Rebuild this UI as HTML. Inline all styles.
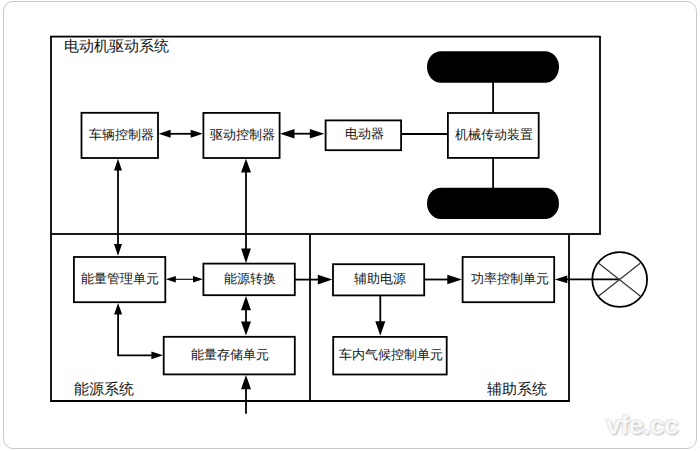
<!DOCTYPE html>
<html><head><meta charset="utf-8"><style>
html,body{margin:0;padding:0;background:#fff;width:700px;height:451px;overflow:hidden}
body{position:relative;font-family:"Liberation Sans",sans-serif}
svg{position:absolute;left:0;top:0}
.t13,.t15{position:absolute;white-space:nowrap;color:#151515;line-height:20px}
.t13{font-size:13px}
.t15{font-size:15px}
.wm{position:absolute;left:606px;top:409.5px;font-size:25px;font-weight:bold;color:#f8f8f8;letter-spacing:-0.5px;transform:scaleX(1.065);transform-origin:0 0;text-shadow:1px 1px 2px #bcbcbc,-1px -1px 1px #e6e6e6;line-height:30px}
</style></head><body>
<svg width="700" height="451" viewBox="0 0 700 451">
<rect x="3.5" y="1.5" width="693" height="447" rx="9.5" ry="9.5" fill="none" stroke="#c9c9c9" stroke-width="1"/>
<g fill="none" stroke="#000" stroke-width="1.8" stroke-linejoin="miter">
<rect x="51" y="36.6" width="549" height="197.4"/>
<polyline points="51,234 51,401 569,401 569,234"/>
<line x1="310" y1="234" x2="310" y2="401"/>
<rect x="81.50" y="112.80" width="76.50" height="45.20"/>
<rect x="203.40" y="112.90" width="76.20" height="45.10"/>
<rect x="325.60" y="120.40" width="75.50" height="29.80"/>
<rect x="447.90" y="113.00" width="90.80" height="44.90"/>
<rect x="73.90" y="257.00" width="91.40" height="45.20"/>
<rect x="203.40" y="263.60" width="91.40" height="31.60"/>
<rect x="163.70" y="336.80" width="131.10" height="37.60"/>
<rect x="333.00" y="264.20" width="91.20" height="31.20"/>
<rect x="333.20" y="336.90" width="113.50" height="37.60"/>
<rect x="462.60" y="257.00" width="91.60" height="45.20"/>
<line x1="401.1" y1="134" x2="447.9" y2="134"/>
<line x1="493.1" y1="82" x2="493.1" y2="113"/>
<line x1="493.1" y1="157.9" x2="493.1" y2="188"/>
<line x1="166" y1="133.8" x2="196" y2="133.8"/>
<line x1="290" y1="133.7" x2="315" y2="133.7"/>
<line x1="118" y1="166" x2="118" y2="248"/>
<line x1="246" y1="168" x2="246" y2="253"/>
<line x1="246" y1="305" x2="246" y2="326"/>
<polyline points="118.1,310 118.1,355.3 155,355.3"/>
<line x1="246" y1="384" x2="246" y2="413.8"/>
<line x1="294.8" y1="279.6" x2="322" y2="279.6"/>
<line x1="380.3" y1="295.4" x2="325" y2="295.4" stroke="none"/>
<line x1="380.3" y1="295.4" x2="380.3" y2="326"/>
<line x1="424.2" y1="279.5" x2="452" y2="279.5"/>
<circle cx="619.7" cy="279.5" r="27.4" stroke-width="1.8"/>
</g>
<line x1="562" y1="279.4" x2="619.7" y2="279.4" stroke="#000" stroke-width="1.6"/>
<line x1="172" y1="279.3" x2="197" y2="279.3" stroke="#000" stroke-width="1.1"/>
<g stroke="#333" stroke-width="1.2"><line x1="599" y1="263.5" x2="640.2" y2="296"/><line x1="640.2" y1="263.3" x2="599" y2="295.8"/></g>
<g fill="#000">
<polygon points="158.60,133.80 170.60,129.80 170.60,137.80"/>
<polygon points="202.70,133.80 190.70,129.80 190.70,137.80"/>
<polygon points="280.00,133.70 294.50,129.00 294.50,138.40"/>
<polygon points="324.30,133.70 309.80,129.00 309.80,138.40"/>
<polygon points="118.00,158.70 114.00,170.50 122.00,170.50"/>
<polygon points="118.00,255.70 114.00,244.10 122.00,244.10"/>
<polygon points="246.00,158.70 241.00,172.60 251.00,172.60"/>
<polygon points="246.00,263.20 241.10,248.40 250.90,248.40"/>
<polygon points="165.80,279.30 175.80,276.00 175.80,282.60"/>
<polygon points="203.00,279.30 193.00,276.00 193.00,282.60"/>
<polygon points="246.00,296.00 241.00,310.30 251.00,310.30"/>
<polygon points="246.00,335.60 241.00,321.60 251.00,321.60"/>
<polygon points="118.10,302.90 114.10,314.50 122.10,314.50"/>
<polygon points="163.00,355.30 151.40,351.40 151.40,359.20"/>
<polygon points="246.00,375.00 241.00,389.20 251.00,389.20"/>
<polygon points="332.40,279.60 317.80,274.75 317.80,284.45"/>
<polygon points="380.30,335.80 375.30,321.20 385.30,321.20"/>
<polygon points="462.00,279.50 447.30,274.80 447.30,284.20"/>
<polygon points="554.80,279.40 567.30,275.45 567.30,283.35"/>
</g>
<rect x="427" y="51.2" width="132" height="31.6" rx="14" ry="15.8" fill="#000"/>
<rect x="427" y="187.8" width="132" height="31.2" rx="14" ry="15.6" fill="#000"/>
</svg>
<div class="t13" style="left:89.0px;top:125.0px">车辆控制器</div>
<div class="t13" style="left:210.0px;top:125.0px">驱动控制器</div>
<div class="t13" style="left:345.0px;top:124.0px">电动器</div>
<div class="t13" style="left:455.0px;top:125.0px">机械传动装置</div>
<div class="t13" style="left:81.0px;top:269.0px">能量管理单元</div>
<div class="t13" style="left:224.0px;top:269.0px">能源转换</div>
<div class="t13" style="left:191.0px;top:345.0px">能量存储单元</div>
<div class="t13" style="left:354.0px;top:269.0px">辅助电源</div>
<div class="t13" style="left:339.0px;top:345.0px">车内气候控制单元</div>
<div class="t13" style="left:471.0px;top:269.0px">功率控制单元</div>
<div class="t15" style="left:64.0px;top:36.0px">电动机驱动系统</div>
<div class="t15" style="left:74.0px;top:379.0px">能源系统</div>
<div class="t15" style="left:487.0px;top:379.0px">辅助系统</div>
<div class="wm">vfe.cc</div>
</body></html>
